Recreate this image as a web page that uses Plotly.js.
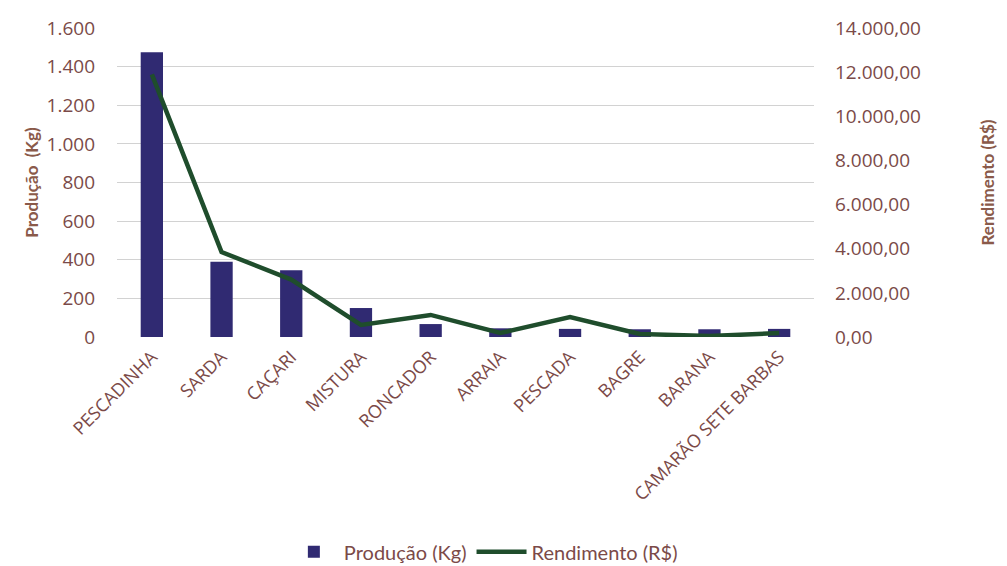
<!DOCTYPE html>
<html>
<head>
<meta charset="utf-8">
<script src="https://cdn.plot.ly/plotly-3.0.1.min.js"></script>
<style>html,body{margin:0;padding:0;background:#fff;}#chart{width:1007px;height:566px;}</style>
</head>
<body>
<div id="chart"></div>
<script>
const categories = ["PESCADINHA","SARDA","CAÇARI","MISTURA","RONCADOR","ARRAIA","PESCADA","BAGRE","BARANA","CAMARÃO SETE BARBAS"];
const producao = [1475, 390, 345, 150, 67, 45, 42, 40, 40, 42];
const rendimento = [11900, 3850, 2600, 550, 1000, 180, 900, 140, 40, 180];
const leftTicks = [0,200,400,600,800,1000,1200,1400,1600];
const rightTicks = [0,2000,4000,6000,8000,10000,12000,14000];

const txtColor = "#7b4a48";
const font = "Lato, 'Open Sans', sans-serif";
const wide = "'Open Sans', sans-serif";

const traces = [
  {type:"bar", x:categories, y:producao, name:"Produção (Kg)", marker:{color:"#302a72"}, yaxis:"y"},
  {type:"scatter", mode:"lines", x:categories, y:rendimento, name:"Rendimento (R$)", line:{color:"#1f4d2c", width:4.5}, yaxis:"y2"}
];

const layout = {
  width:1007, height:566,
  margin:{l:117, r:193, t:28, b:229},
  paper_bgcolor:"#fff", plot_bgcolor:"#fff",
  separators:",.",
  font:{family:font, color:txtColor, size:15},
  bargap:0.68,
  showlegend:true,
  legend:{orientation:"h", x:0.48, xref:"container", xanchor:"center", y:0.025, yref:"container", yanchor:"middle", font:{size:20, color:txtColor}, traceorder:"normal", itemwidth:50},
  xaxis:{type:"category", tickangle:-45, tickfont:{size:18, color:txtColor, family:wide}, showgrid:false, showline:false, ticks:"", automargin:false, ticklabelstandoff:5},
  yaxis:{range:[0,1600], tickvals:leftTicks, tickformat:",.0f", showgrid:true, gridcolor:"#d2d2d2", zeroline:false, showline:false, ticks:"", tickfont:{size:19, color:txtColor, family:wide}, ticklabelstandoff:21,
         title:{text:"Produção  (Kg)", font:{size:17, color:"#8a5a4a", family:font, weight:"bold"}, standoff:3}, automargin:false},
  yaxis2:{overlaying:"y", side:"right", range:[0,14000], tickvals:rightTicks, tickformat:",.2f", showgrid:false, zeroline:false, showline:false, ticks:"", tickfont:{size:19, color:txtColor, family:wide}, ticklabelstandoff:20,
         title:{text:"Rendimento (R$)", font:{size:17, color:"#8a5a4a", family:font, weight:"bold"}, standoff:62}, automargin:false}
};

Plotly.newPlot("chart", traces, layout, {displayModeBar:false, staticPlot:true});
</script>
</body>
</html>
